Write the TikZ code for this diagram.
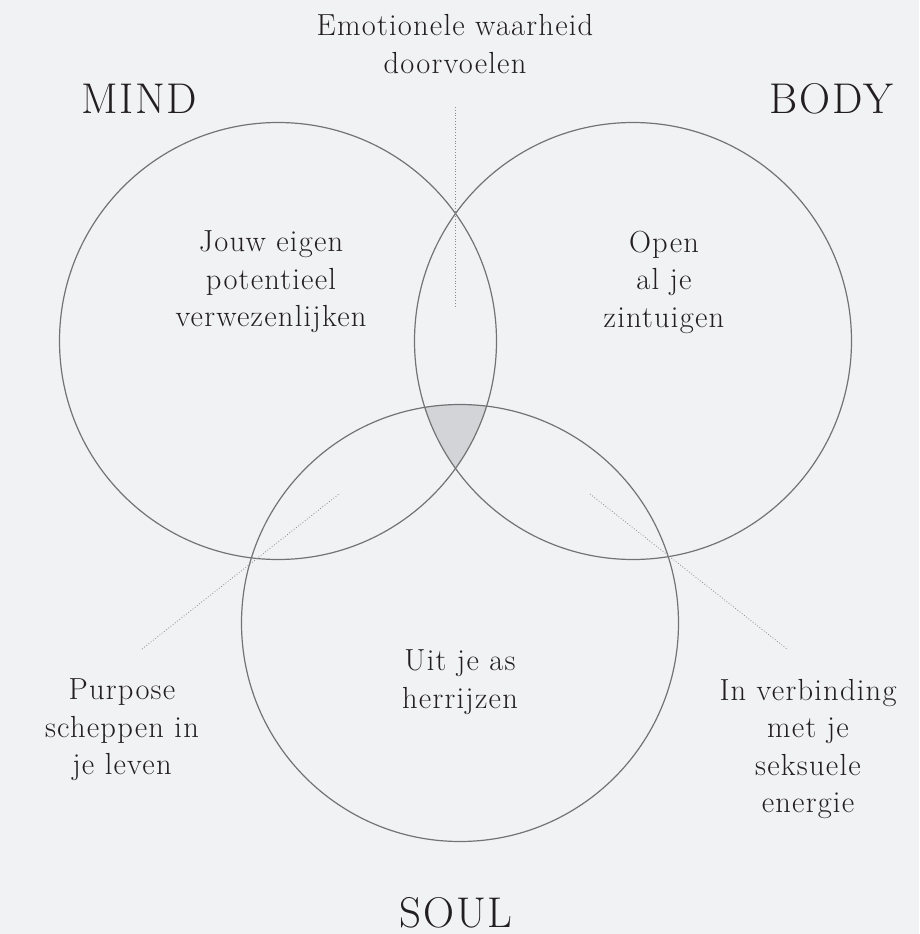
\documentclass[tikz,border=0pt]{standalone}
\usepackage{fontspec}
\setmainfont{Latin Modern Roman}[LetterSpace=4]
\usepackage{xcolor}
\definecolor{bg}{HTML}{F1F2F4}
\definecolor{ring}{HTML}{737373}
\definecolor{ink}{HTML}{231F20}
\definecolor{triShade}{HTML}{D3D4D7}
\definecolor{dots}{HTML}{8A8A8A}
\begin{document}
\begin{tikzpicture}[x=1pt,y=-1pt,
  ringc/.style={circle,draw=ring,line width=1.2pt,minimum size=437pt,inner sep=0pt},
  lbl/.style={text=ink,align=center,font=\fontsize{30.5}{37.5}\selectfont},
  big/.style={text=ink,font=\fontsize{43}{48}\selectfont,inner sep=0pt},
  leader/.style={draw=dots,line width=0.8pt,dotted}]
\useasboundingbox[fill=bg] (0,0) rectangle (919,934);
% shaded triple intersection
\begin{scope}
  \clip (278,341) circle (218.5);
  \clip (633,341) circle (218.5);
  \fill[triShade] (460,623) circle (218.5);
\end{scope}
% circles
\node[ringc] (mind) at (278,341) {};
\node[ringc] (body) at (633,341) {};
\node[ringc] (soul) at (460,623) {};
% leader lines
\coordinate (t1) at (455,107);
\coordinate (t2) at (455,307);
\coordinate (l1) at (142,649);
\coordinate (l2) at (339,494);
\coordinate (r1) at (590,494);
\coordinate (r2) at (787,649);
\draw[leader] (t1) -- (t2);
\draw[leader] (l1) -- (l2);
\draw[leader] (r1) -- (r2);
% titles
\node[big,anchor=base west] (tmind) at (81,113) {MIND};
\node[big,anchor=base east] (tbody) at (893,113) {BODY};
\node[big,anchor=base] (tsoul) at (456,927) {SOUL};
% labels
\node[lbl] (emo) at (455,44) {Emotionele waarheid\\doorvoelen};
\node[lbl] (jouw) at (271,282) {Jouw eigen\\potentieel\\verwezenlijken};
\node[lbl] (open) at (664,282) {Open\\al je\\zintuigen};
\node[lbl] (uit) at (460,682) {Uit je as\\herrijzen};
\node[lbl] (purp) at (122,730) {Purpose\\scheppen in\\je leven};
\node[lbl] (verb) at (808,749) {In verbinding\\met je\\seksuele\\energie};
\end{tikzpicture}
\end{document}
